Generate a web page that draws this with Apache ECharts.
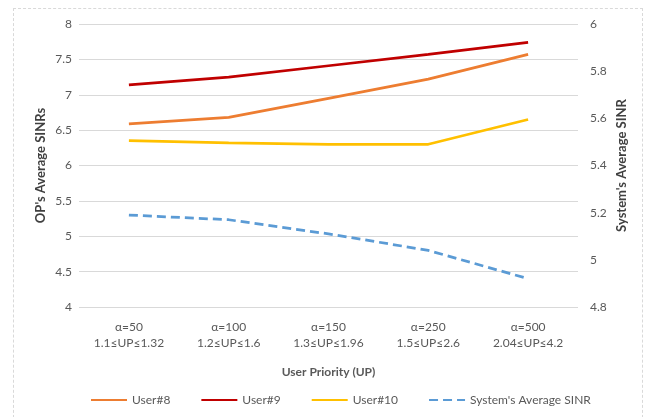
<!DOCTYPE html>
<html>
<head>
<meta charset="utf-8">
<script src="https://cdn.jsdelivr.net/npm/echarts@6/dist/echarts.min.js"></script>
<style>
  html, body { margin: 0; padding: 0; background: #fff; }
  .frame {
    position: absolute; left: 13px; top: 8px; width: 630px; height: 420px;
    border: 1px dashed #d9d9d9; box-sizing: border-box;
  }
  #chart { width: 653px; height: 417px; position: absolute; left: 0; top: 0; }
</style>
</head>
<body>
<div class="frame"></div>
<div id="chart"></div>
<script>
  const categories = [
    'α=50\n1.1≤UP≤1.32',
    'α=100\n1.2≤UP≤1.6',
    'α=150\n1.3≤UP≤1.96',
    'α=250\n1.5≤UP≤2.6',
    'α=500\n2.04≤UP≤4.2'
  ];
  const user8 = [6.59, 6.68, 6.95, 7.22, 7.57];
  const user9 = [7.14, 7.25, 7.41, 7.57, 7.74];
  const user10 = [6.35, 6.32, 6.30, 6.30, 6.65];
  const systemAvg = [5.19, 5.17, 5.11, 5.04, 4.92];

  const font = 'Lato, "Open Sans", sans-serif';
  const grey = '#595959';

  const myChart = echarts.init(document.getElementById('chart'));
  myChart.setOption({
    textStyle: { fontFamily: font },
    grid: { left: 79, right: 75, top: 24, bottom: 110 },
    legend: {
      bottom: 6,
      left: 85,
      itemWidth: 36,
      itemHeight: 10,
      itemGap: 30,
      itemStyle: { opacity: 0 },
      textStyle: { color: grey, fontSize: 12, fontFamily: font },
      data: ['User#8', 'User#9', 'User#10', "System's Average SINR"]
    },
    xAxis: {
      type: 'category',
      data: categories,
      name: 'User Priority (UP)',
      nameLocation: 'middle',
      nameGap: 59,
      nameMoveOverlap: false,
      nameTextStyle: { fontWeight: 'bold', fontSize: 12, color: grey, fontFamily: font },
      axisLine: { show: false },
      axisTick: { show: false },
      axisLabel: { color: grey, fontSize: 12, lineHeight: 16, margin: 12, interval: 0 }
    },
    yAxis: [
      {
        type: 'value',
        min: 4, max: 8, interval: 0.5,
        name: "OP's Average SINRs",
        nameLocation: 'middle',
        nameGap: 32,
        nameMoveOverlap: false,
        nameTextStyle: { fontWeight: 'bold', fontSize: 13, color: '#404040', fontFamily: font },
        axisLabel: { color: grey, fontSize: 12, margin: 7 },
        splitLine: { lineStyle: { color: '#d9d9d9', width: 1 } }
      },
      {
        type: 'value',
        min: 4.8, max: 6, interval: 0.2,
        name: "System's Average SINR",
        nameLocation: 'middle',
        nameGap: 37,
        nameRotate: 90,
        nameMoveOverlap: false,
        nameTextStyle: { fontWeight: 'bold', fontSize: 13, color: '#404040', fontFamily: font },
        axisLabel: { color: grey, fontSize: 12, margin: 12, formatter: v => +v.toFixed(1) },
        splitLine: { show: false },
        axisLine: { show: false },
        axisTick: { show: false }
      }
    ],
    series: [
      { name: 'User#8', type: 'line', data: user8, symbol: 'none',
        lineStyle: { color: '#ED7D31', width: 2.75 }, itemStyle: { color: '#ED7D31' } },
      { name: 'User#9', type: 'line', data: user9, symbol: 'none',
        lineStyle: { color: '#C00000', width: 2.75 }, itemStyle: { color: '#C00000' } },
      { name: 'User#10', type: 'line', data: user10, symbol: 'none',
        lineStyle: { color: '#FFC000', width: 2.75 }, itemStyle: { color: '#FFC000' } },
      { name: "System's Average SINR", type: 'line', data: systemAvg, yAxisIndex: 1, symbol: 'none',
        lineStyle: { color: '#5B9BD5', width: 2.75, type: [9, 5] }, itemStyle: { color: '#5B9BD5' } }
    ]
  });
</script>
</body>
</html>
